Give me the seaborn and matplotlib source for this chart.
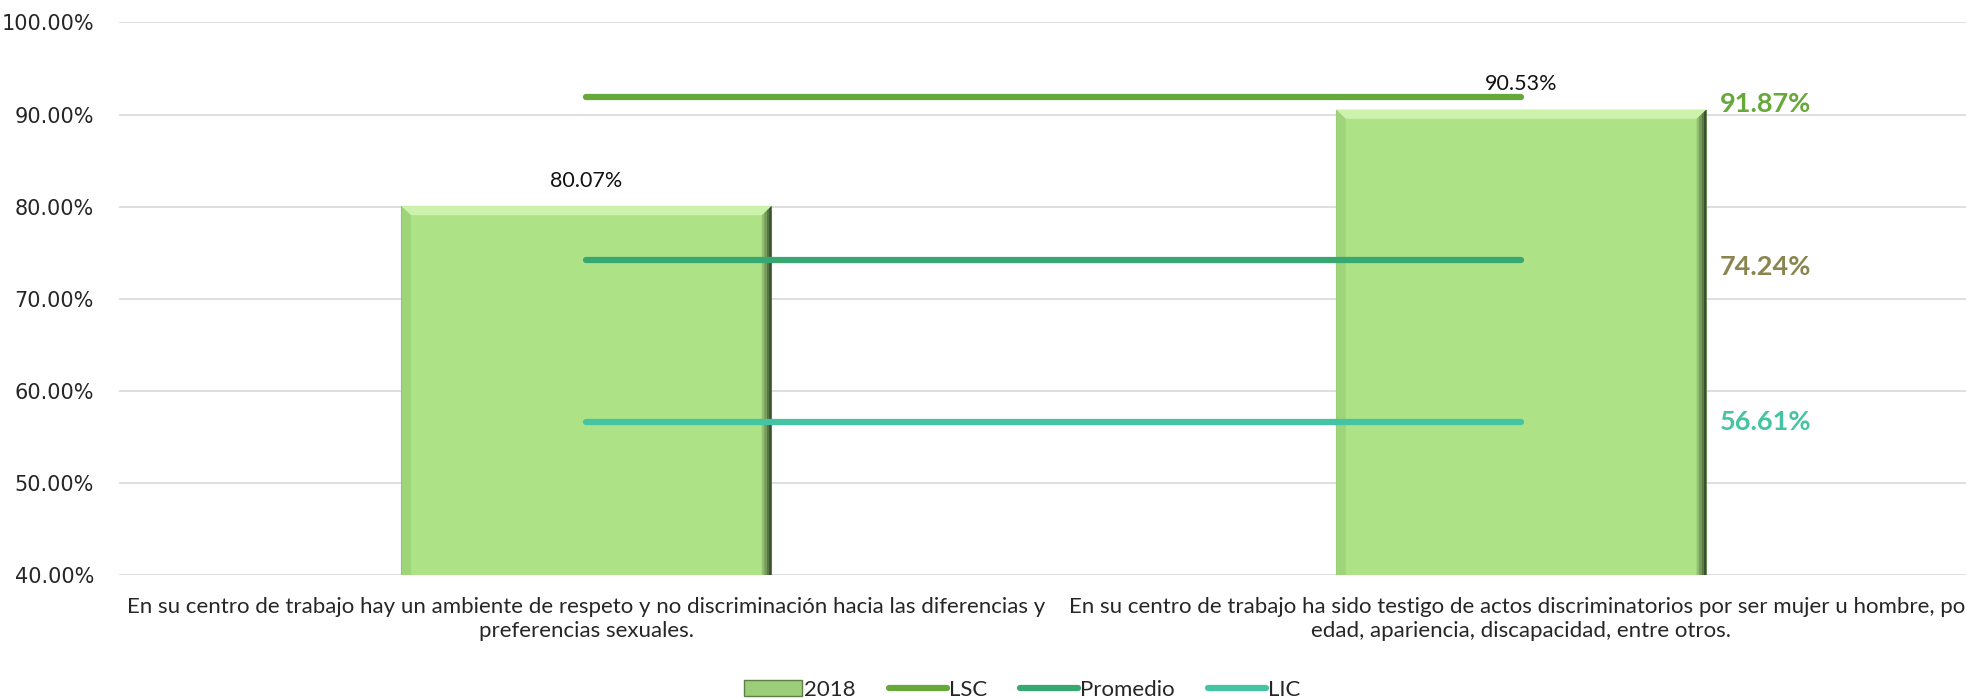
import matplotlib
matplotlib.use('Agg')
import matplotlib.pyplot as plt
import matplotlib.patches as mpatches
from matplotlib.lines import Line2D
from matplotlib.ticker import FuncFormatter
import seaborn as sns
import pandas as pd

# data
categories = [
    "En su centro de trabajo hay un ambiente de respeto y no discriminación hacia las diferencias y\npreferencias sexuales.",
    "En su centro de trabajo ha sido testigo de actos discriminatorios por ser mujer u hombre, por\nedad, apariencia, discapacidad, entre otros.",
]
values_2018 = [80.07, 90.53]
lsc = [91.87, 91.87]
promedio = [74.24, 74.24]
lic = [56.61, 56.61]
y_ticks = [40, 50, 60, 70, 80, 90, 100]

BAR = "#ade386"
LSC_C = "#67a83a"
PROM_C = "#38a872"
LIC_C = "#45c4a4"
PROM_TXT = "#8a8550"

sns.set_theme(style="white")
plt.rcParams["font.family"] = ["Lato", "DejaVu Sans"]

df = pd.DataFrame({"cat": categories, "val": values_2018})

fig = plt.figure(figsize=(19.66, 6.99), dpi=100)
ax = fig.add_axes([0.0605, 0.177, 0.951, 0.791])

sns.barplot(data=df, x="cat", y="val", ax=ax, color=BAR, width=0.396,
            edgecolor="#7a9a60", linewidth=0.8, saturation=1, zorder=2)

# bevel look on the bars
YMIN = 40
for p in list(ax.patches):
    x0, w, top = p.get_x(), p.get_width(), p.get_height()
    bx, by = w * 0.026, 1.0
    ax.add_patch(mpatches.Polygon([(x0, top), (x0 + w, top), (x0 + w - bx, top - by), (x0 + bx, top - by)],
                                  closed=True, fc="#cdf2ab", ec="none", zorder=2.1))
    ax.add_patch(mpatches.Polygon([(x0, top), (x0 + bx, top - by), (x0 + bx, YMIN), (x0, YMIN)],
                                  closed=True, fc="#9ed47a", ec="none", zorder=2.1))
    shades = ["#92bd73", "#76995c", "#587845", "#3a5030"]
    n = len(shades)
    for i, c in enumerate(shades):
        xa = x0 + w - bx + bx * i / n
        xb = x0 + w - bx + bx * (i + 1) / n
        ya = top - by + by * i / n
        yb = top - by + by * (i + 1) / n
        ax.add_patch(mpatches.Polygon([(xa, ya), (xb, yb), (xb, YMIN), (xa, YMIN)],
                                      closed=True, fc=c, ec="none", zorder=2.2))

xs = list(range(len(categories)))
for vals, col in [(lsc, LSC_C), (promedio, PROM_C), (lic, LIC_C)]:
    ax.plot(xs, vals, color=col, lw=4.5, solid_capstyle="round", zorder=3)

# bar value labels
for x, v in zip(xs, values_2018):
    ax.annotate(f"{v:.2f}%", (x, v), xytext=(0, 11), textcoords="offset points",
                ha="center", va="bottom", fontsize=15.5, color="#111111")

# right-side limit labels
for vals, col, dy in [(lsc, LSC_C, -5), (promedio, PROM_TXT, -5), (lic, LIC_C, 0)]:
    ax.annotate(f"{vals[-1]:.2f}%", (xs[-1] + 0.212, vals[-1]), xytext=(0, dy),
                textcoords="offset points", ha="left", va="center",
                fontsize=19.5, fontweight="bold", color=col)

ax.set_ylim(YMIN, 100)
ax.set_xlim(-0.5, 1.5)
ax.set_yticks(y_ticks)
ax.yaxis.set_major_formatter(FuncFormatter(lambda v, p: f"{v:.2f}%"))
ax.grid(axis="y", color="#d9d9d9", lw=1.2, zorder=0)
ax.set_axisbelow(True)
for s in ax.spines.values():
    s.set_visible(False)
ax.tick_params(axis="y", length=6, color="#d9d9d9", pad=12, labelsize=15)
for t in ax.get_yticklabels():
    t.set_fontfamily("DejaVu Sans")
ax.tick_params(axis="x", length=0, pad=16, labelsize=16)
ax.set_xlabel("")
ax.set_ylabel("")

handles = [
    mpatches.Patch(facecolor="#9ccd78", edgecolor="#5d7f45", label="2018"),
    Line2D([], [], color=LSC_C, lw=4.5, solid_capstyle="round", label="LSC"),
    Line2D([], [], color=PROM_C, lw=4.5, solid_capstyle="round", label="Promedio"),
    Line2D([], [], color=LIC_C, lw=4.5, solid_capstyle="round", label="LIC"),
]
fig.legend(handles=handles, loc="lower center", bbox_to_anchor=(0.52, -0.03),
           ncol=4, frameon=False, fontsize=16, handlelength=2.6,
           handletextpad=0.1, columnspacing=1.5)

fig.savefig("out.png", dpi=100)
